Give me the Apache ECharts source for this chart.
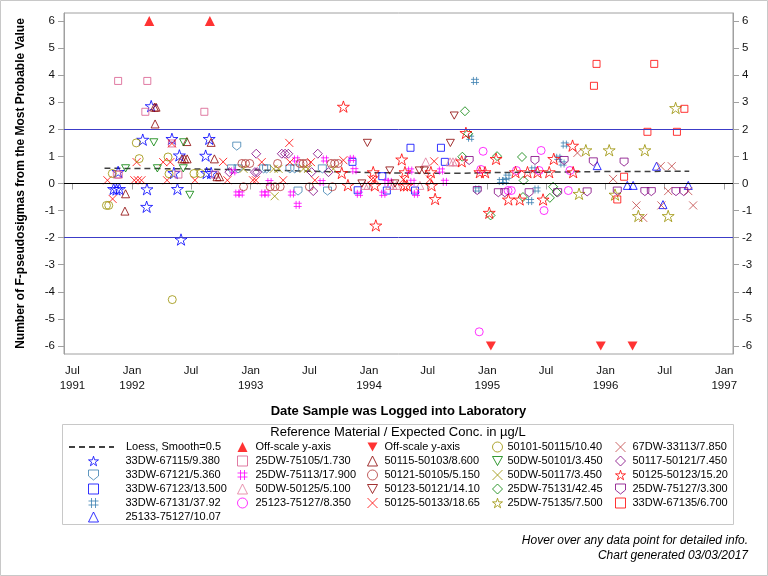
<!DOCTYPE html>
<html><head><meta charset="utf-8">
<script src="https://cdn.jsdelivr.net/npm/echarts@6/dist/echarts.min.js"></script>
<style>html,body{margin:0;padding:0;background:#fff}#c{width:768px;height:576px}</style>
</head><body><div id="c"></div>
<script>
// ---------- DATA ----------
const xTickDates = ['1991-07-01','1992-01-01','1992-07-01','1993-01-01','1993-07-01','1994-01-01','1994-07-01','1995-01-01','1995-07-01','1996-01-01','1996-07-01','1997-01-01'];
const yTicks = [-6,-5,-4,-3,-2,-1,0,1,2,3,4,5,6];
const refLines = [0, 2, -2];

const loess = [['1991-10-08',0.56],['1992-04-01',0.55],['1992-10-01',0.52],['1993-04-01',0.48],['1993-10-01',0.43],['1994-04-01',0.39],['1994-10-01',0.38],['1995-01-01',0.40],['1995-07-01',0.42],['1996-01-01',0.44],['1996-09-15',0.45]];
const offUp = [['1992-02-23',6],['1992-08-28',6]];
const offDown = [['1995-01-12',-6],['1995-12-17',-6],['1996-03-24',-6]];

const s67115 = [['1991-11-05',-0.20],['1991-11-14',-0.22],['1991-11-23',-0.20],['1991-11-19',0.43],['1992-02-03',1.62],['1992-02-29',2.86],['1992-02-16',-0.21],['1992-02-15',-0.86],['1992-05-03',1.65],['1992-05-09',0.39],['1992-05-20',-0.20],['1992-05-26',1.04],['1992-05-31',-2.07],['1992-08-15',1.03],['1992-08-18',0.39],['1992-09-01',0.39],['1992-08-26',1.65]];
const s67121 = [['1992-11-19',1.38],['1992-11-03',0.54],['1992-11-23',0.54],['1993-02-10',0.54],['1993-02-19',0.54],['1993-05-02',0.54],['1993-05-17',0.54],['1993-08-10',0.54],['1993-05-27',-0.28],['1993-08-26',-0.28]];
const s67123 = [['1993-11-11',0.80],['1993-11-27',-0.25],['1994-02-11',0.27],['1994-02-25',-0.26],['1994-05-09',1.32],['1994-05-23',-0.26],['1994-08-11',1.32],['1994-08-23',0.80]];
const s67131 = [['1994-11-24',3.79],['1994-11-09',1.69],['1994-12-01',-0.22],['1995-02-12',0.09],['1995-02-24',0.09],['1995-03-04',0.25],['1995-05-23',0.52],['1995-06-02',-0.22],['1995-05-13',-0.65],['1995-08-08',0.95],['1995-08-21',0.74],['1995-08-28',1.44]];
const s25133 = [['1995-12-06',0.66],['1996-03-08',-0.07],['1996-03-26',-0.07],['1996-06-06',0.64],['1996-06-26',-0.78],['1996-09-12',-0.07]];
const s75105 = [['1991-11-19',3.79],['1992-02-17',3.79],['1992-02-11',2.65],['1992-08-11',2.65],['1992-05-03',1.48],['1991-11-15',0.33],['1991-11-21',0.33],['1992-05-23',0.33],['1992-09-13',0.33]];
const s75113 = [['1992-11-08',0.45],['1992-11-21',-0.37],['1992-12-01',-0.37],['1993-02-09',-0.37],['1993-02-19',-0.37],['1993-02-28',0.05],['1993-05-08',-0.37],['1993-05-21',0.89],['1993-05-26',-0.79],['1993-08-08',0.05],['1993-08-18',0.89],['1993-11-09',0.91],['1993-11-17',0.49],['1993-12-01',-0.38],['1994-02-14',-0.38],['1994-02-24',0.06],['1994-03-06',0.06],['1994-05-08',0.48],['1994-05-15',0.06],['1994-05-26',-0.38],['1994-08-11',0.48],['1994-08-23',0.06]];
const s50125w = [['1993-12-19',-0.07],['1993-12-29',-0.07],['1994-03-06',-0.07],['1994-03-16',-0.07],['1994-03-27',-0.07],['1994-06-07',-0.07],['1994-06-25',0.80],['1994-09-08',0.80],['1994-09-17',0.80],['1994-09-26',0.80]];
const s25123 = [['1994-12-19',1.19],['1994-12-12',0.52],['1994-12-07',-5.48],['1995-03-06',-0.26],['1995-03-16',-0.26],['1995-04-01',0.48],['1995-06-10',0.48],['1995-06-16',1.22],['1995-06-25',-1.00],['1995-09-08',-0.26],['1995-09-13',0.48]];
const s50115 = [['1992-03-10',2.82],['1992-03-15',2.82],['1992-03-12',2.20],['1991-12-12',-0.38],['1991-12-10',-1.02],['1992-06-03',0.91],['1992-06-11',0.91],['1992-06-19',0.91],['1992-06-18',1.55],['1992-09-01',1.52],['1992-09-11',0.91],['1992-09-19',0.25],['1992-09-27',0.25]];
const s50121 = [['1992-12-05',0.74],['1992-12-16',0.74],['1992-12-29',0.74],['1992-12-10',-0.12],['1993-03-02',-0.12],['1993-03-17',-0.12],['1993-04-02',-0.12],['1993-03-25',0.74],['1993-06-02',0.74],['1993-06-12',0.74],['1993-06-22',0.74],['1993-07-01',-0.12],['1993-09-06',0.74],['1993-09-17',0.74],['1993-09-28',0.74],['1993-09-10',-0.12]];
const s50123 = [['1993-12-27',1.50],['1993-12-10',0.00],['1994-03-06',0.48],['1994-03-22',0.00],['1994-06-05',0.48],['1994-06-21',0.48],['1994-09-09',1.50],['1994-09-21',2.51]];
const s50125x = [['1991-10-17',0.12],['1991-11-02',-0.57],['1992-01-08',0.12],['1992-01-19',0.12],['1992-01-30',0.12],['1992-01-15',0.79],['1992-04-06',0.79],['1992-04-28',0.79],['1992-05-03',1.48],['1992-04-18',0.12],['1992-07-13',0.12],['1992-10-08',0.80],['1992-10-21',0.12],['1993-01-08',0.12],['1993-01-17',0.12],['1993-02-04',0.79],['1993-04-11',0.12],['1993-04-30',1.50],['1993-05-02',0.79],['1993-07-06',0.79],['1993-07-18',0.12],['1993-10-14',0.86],['1994-01-09',0.15],['1994-01-19',0.15],['1994-04-17',0.15],['1994-07-08',0.15],['1994-07-21',0.82]];
const s50101 = [['1991-10-14',-0.81],['1991-10-21',-0.81],['1991-11-01',0.37],['1992-01-14',1.50],['1992-01-23',0.92],['1992-04-21',0.98],['1992-04-24',0.36],['1992-05-04',-4.29],['1992-07-10',0.37],['1992-07-30',0.37]];
const s50dw101 = [['1991-12-12',0.56],['1992-03-08',1.52],['1992-03-19',0.56],['1992-06-08',1.52],['1992-06-07',0.56],['1992-06-27',-0.42]];
const s50dw117 = [['1992-12-10',0.54],['1993-03-13',0.54],['1993-03-28',0.54],['1993-03-16',-0.47],['1993-06-13',0.54],['1993-06-27',0.54],['1993-09-13',0.54]];
const s75131 = [['1994-10-24',2.67],['1994-11-03',1.84],['1994-10-16',0.99],['1995-01-11',-1.18],['1995-01-31',1.01],['1995-04-18',0.98],['1995-04-23',0.11],['1995-04-21',-0.50],['1995-07-23',-0.12],['1995-08-03',-0.32],['1995-07-13',-0.53]];
const s75135 = [['1995-10-11',-0.38],['1995-11-01',1.23],['1996-01-12',1.23],['1996-01-30',-0.41],['1996-04-11',-1.20],['1996-05-01',1.23],['1996-07-12',-1.20],['1996-08-04',2.79]];
const s33113 = [['1995-10-06',1.13],['1996-01-24',0.17],['1996-04-05',-0.81],['1996-04-26',-1.27],['1996-06-19',0.64],['1996-07-23',0.64],['1996-07-12',-0.28],['1996-06-21',-0.81],['1996-09-12',-0.28],['1996-09-27',-0.81]];
const s50117 = [['1992-10-27',0.42],['1993-01-18',1.10],['1993-01-14',0.42],['1993-01-21',0.42],['1993-04-07',1.10],['1993-04-17',1.10],['1993-04-27',1.10],['1993-07-08',0.42],['1993-07-13',-0.28],['1993-07-27',1.10],['1993-08-29',0.42]];
const s50125s = [['1993-10-14',2.84],['1993-10-09',0.39],['1993-10-28',-0.06],['1994-01-14',0.42],['1994-01-19',-0.07],['1994-01-22',-1.55],['1994-04-12',0.89],['1994-04-19',-0.07],['1994-04-28',-0.07],['1994-04-22',0.42],['1994-07-11',0.42],['1994-07-13',-0.07],['1994-07-24',-0.57],['1994-10-14',0.82],['1994-10-27',1.87],['1994-12-09',0.42],['1994-12-25',0.42],['1995-01-07',-1.08],['1995-01-28',0.91],['1995-03-07',-0.59],['1995-03-29',0.42],['1995-04-11',-0.59],['1995-05-05',0.42],['1995-06-05',0.42],['1995-06-22',-0.59],['1995-07-11',0.42],['1995-07-25',0.91],['1995-09-23',0.42],['1995-09-21',1.40]];
const s75127 = [['1994-11-06',0.85],['1994-12-01',-0.26],['1995-02-04',-0.34],['1995-02-24',-0.34],['1995-05-10',-0.34],['1995-05-28',0.85],['1995-08-06',-0.34],['1995-08-26',0.85],['1995-11-05',-0.31],['1995-11-24',0.80],['1996-02-06',-0.28],['1996-02-27',0.79],['1996-05-01',-0.30],['1996-05-21',-0.30],['1996-08-05',-0.30],['1996-08-29',-0.30]];
const s67135 = [['1995-11-26',3.61],['1995-12-04',4.42],['1996-02-06',-0.59],['1996-02-27',0.25],['1996-05-30',4.42],['1996-05-09',1.91],['1996-08-08',1.91],['1996-08-31',2.76]];

// ---------- HELPERS / STYLE ----------
function ts(d) { const p = d.split('-'); return Date.UTC(+p[0], +p[1] - 1, +p[2]); }
function pts(arr) { return arr.map(p => [ts(p[0]), p[1]]); }

const FONT = '"Liberation Sans", Arial, Helvetica, sans-serif';
const SYM = {
  star: 'path://M50,0 L61.2,34.5 L97.6,34.5 L68.2,55.9 L79.4,90.5 L50,69.1 L20.6,90.5 L31.8,55.9 L2.4,34.5 L38.8,34.5 Z',
  shield: 'path://M0,0 L10,0 L10,6 L5,10 L0,6 Z',
  square: 'rect',
  hash: 'path://M3,0 L3,10 M7,0 L7,10 M0,3 L10,3 M0,7 L10,7',
  tri: 'triangle',
  dtri: 'path://M0,0 L10,0 L5,9 Z',
  circle: 'circle',
  x: 'path://M0,0 L10,10 M10,0 L0,10',
  diamond: 'diamond'
};
const SIZE = {star:12, shield:8, square:7, hash:8, tri:8, dtri:8, circle:8, x:8, diamond:9};

function sc(name, data, sym, color, filled) {
  return {
    type: 'scatter', name: name, data: pts(data),
    symbol: SYM[sym], symbolSize: filled ? 10 : SIZE[sym], symbolKeepAspect: true,
    itemStyle: filled ? {color: color} : {color: 'rgba(0,0,0,0)', borderColor: color, borderWidth: 1},
    emphasis: {scale: false}, z: 3
  };
}

const C = {blue:'#0000ff', steel:'#3b7fb0', pink:'#d85a8c', pink2:'#e27a9c', mag:'#ff00ff', dred:'#8b0000', brown:'#b23434',
  red:'#ff0000', olive:'#9a9000', green:'#008000', bx:'#c04444', purple:'#800080'};

const series = [
  {type:'line', name:'Loess, Smooth=0.5', data: pts(loess), smooth: true, symbol:'none', showSymbol:false,
   lineStyle:{color:'#404040', width:1.5, type:[6,4]}, itemStyle:{color:'#404040'}, z:2,
   markLine:{silent:true, symbol:['none','none'], label:{show:false}, animation:false,
     data: refLines.map(v => ({yAxis: v, lineStyle:{color: v === 0 ? '#000' : '#3c3cc8', width:1, type:'solid'}}))}},
  sc('Off-scale y-axis', offUp, 'tri', C.red, true),
  sc('Off-scale y-axis', offDown, 'dtri', C.red, true),
  sc('33DW-67115/9.380', s67115, 'star', C.blue),
  sc('33DW-67121/5.360', s67121, 'shield', C.steel),
  sc('33DW-67123/13.500', s67123, 'square', C.blue),
  sc('33DW-67131/37.92', s67131, 'hash', C.steel),
  sc('25133-75127/10.07', s25133, 'tri', C.blue),
  sc('25DW-75105/1.730', s75105, 'square', C.pink),
  sc('25DW-75113/17.900', s75113, 'hash', C.mag),
  sc('50DW-50125/5.100', s50125w, 'tri', C.pink2),
  sc('25123-75127/8.350', s25123, 'circle', C.mag),
  sc('50115-50103/8.600', s50115, 'tri', C.dred),
  sc('50121-50105/5.150', s50121, 'circle', C.brown),
  sc('50123-50121/14.10', s50123, 'dtri', C.dred),
  sc('50125-50133/18.65', s50125x, 'x', C.red),
  sc('50101-50115/10.40', s50101, 'circle', C.olive),
  sc('50DW-50101/3.450', s50dw101, 'dtri', C.green),
  sc('50DW-50117/3.450', s50dw117, 'x', C.olive),
  sc('25DW-75131/42.45', s75131, 'diamond', C.green),
  sc('25DW-75135/7.500', s75135, 'star', C.olive),
  sc('67DW-33113/7.850', s33113, 'x', C.bx),
  sc('50117-50121/7.450', s50117, 'diamond', C.purple),
  sc('50125-50123/15.20', s50125s, 'star', C.red),
  sc('25DW-75127/3.300', s75127, 'shield', C.purple),
  sc('33DW-67135/6.700', s67135, 'square', C.red)
];

const legendCols = [
  {left: 68, top: 440, width: 45, pad: 7, data: [{name: 'Loess, Smooth=0.5', itemStyle: {opacity: 0, color: 'rgba(0,0,0,0)', borderWidth: 0}}]},
  {left: 88, top: 454, width: 10, pad: 22, data: ['33DW-67115/9.380','33DW-67121/5.360','33DW-67123/13.500','33DW-67131/37.92','25133-75127/10.07']},
  {left: 237, top: 440, width: 10, pad: 3, data: ['Off-scale y-axis','25DW-75105/1.730','25DW-75113/17.900','50DW-50125/5.100','25123-75127/8.350']},
  {left: 367, top: 440, width: 10, pad: 2, data: [{name:'Off-scale y-axis', icon: SYM.dtri}, '50115-50103/8.600','50121-50105/5.150','50123-50121/14.10','50125-50133/18.65']},
  {left: 492, top: 440, width: 10, pad: 0, data: ['50101-50115/10.40','50DW-50101/3.450','50DW-50117/3.450','25DW-75131/42.45','25DW-75135/7.500']},
  {left: 615, top: 440, width: 10, pad: 2, data: ['67DW-33113/7.850','50117-50121/7.450','50125-50123/15.20','25DW-75127/3.300','33DW-67135/6.700']}
];

const tickVals = xTickDates.map(ts);
const axisGray = '#a0a0a0';
const labelStyle = {fontFamily: FONT, fontSize: 11.5, color: '#111'};

const option = {
  animation: false,
  backgroundColor: '#fff',
  tooltip: {trigger: 'item'},
  grid: {left: 64, top: 13, width: 669, height: 341, show: true, borderColor: axisGray, borderWidth: 1, containLabel: false},
  xAxis: {
    type: 'value', min: ts('1991-06-05'), max: ts('1997-01-28'),
    name: 'Date Sample was Logged into Laboratory', nameLocation: 'middle', nameGap: 51,
    nameTextStyle: {fontFamily: FONT, fontSize: 13, fontWeight: 'bold', color: '#000'},
    axisLine: {show: true, lineStyle: {color: axisGray}},
    axisTick: {show: true, length: 6, lineStyle: {color: axisGray}, customValues: tickVals},
    axisLabel: Object.assign({}, labelStyle, {customValues: tickVals, margin: 9, lineHeight: 15,
      formatter: function (val) {
        const d = new Date(val); const m = d.getUTCMonth(); const y = d.getUTCFullYear();
        if (m === 0) return 'Jan\n' + y;
        if (y === 1991) return 'Jul\n1991';
        return 'Jul';
      }}),
    splitLine: {show: false}
  },
  yAxis: [
    {type: 'value', min: -6.3, max: 6.3, position: 'left',
     name: 'Number of F-pseudosigmas from the Most Probable Value', nameLocation: 'middle', nameGap: 37,
     nameTextStyle: {fontFamily: FONT, fontSize: 12, fontWeight: 'bold', color: '#000'},
     axisLine: {show: true, lineStyle: {color: axisGray}},
     axisTick: {show: true, length: 6, lineStyle: {color: axisGray}, customValues: yTicks},
     axisLabel: Object.assign({}, labelStyle, {customValues: yTicks, margin: 9}),
     splitLine: {show: false}},
    {type: 'value', min: -6.3, max: 6.3, position: 'right',
     axisLine: {show: true, lineStyle: {color: axisGray}},
     axisTick: {show: true, length: 6, lineStyle: {color: axisGray}, customValues: yTicks},
     axisLabel: Object.assign({}, labelStyle, {customValues: yTicks, margin: 9}),
     splitLine: {show: false}}
  ],
  legend: legendCols.map(col => ({
    orient: 'vertical', left: col.left, top: col.top, itemWidth: col.width, itemHeight: 10, itemGap: 0,
    selectedMode: false, padding: 0, data: col.data, symbolKeepAspect: true,
    itemStyle: {borderWidth: 1},
    textStyle: {fontFamily: FONT, fontSize: 11, color: '#000', lineHeight: 14, padding: [0, 0, 0, col.pad]}
  })),
  graphic: [
    {type: 'rect', silent: true, shape: {x: 0.5, y: 0.5, width: 767, height: 575}, style: {fill: 'none', stroke: '#c8c8c8', lineWidth: 1}},
    {type: 'rect', silent: true, shape: {x: 62.5, y: 424.5, width: 671, height: 100}, style: {fill: 'none', stroke: '#c8c8c8', lineWidth: 1}},
    {type: 'text', silent: true, x: 398, y: 432, style: {text: 'Reference Material / Expected Conc. in µg/L', font: '13px ' + FONT, fill: '#000', align: 'center', verticalAlign: 'middle'}},
    {type: 'text', silent: true, x: 748, y: 541, style: {text: 'Hover over any data point for detailed info.', font: 'italic 12px ' + FONT, fill: '#000', align: 'right', verticalAlign: 'middle'}},
    {type: 'text', silent: true, x: 748, y: 556, style: {text: 'Chart generated 03/03/2017', font: 'italic 12px ' + FONT, fill: '#000', align: 'right', verticalAlign: 'middle'}}
  ],
  series: series
};

const chart = echarts.init(document.getElementById('c'), null, {renderer: 'canvas'});
chart.setOption(option);
</script>
</body></html>
